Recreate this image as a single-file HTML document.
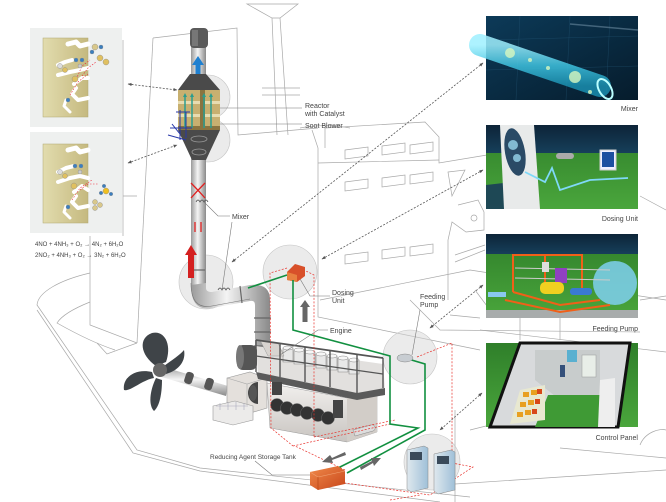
<!DOCTYPE html>
<html><head><meta charset="utf-8"><style>
html,body{margin:0;padding:0;background:#fff;}
svg{display:block;}
text{font-family:"Liberation Sans Narrow","Liberation Sans",sans-serif;fill:#444;}
</style></head><body>
<svg width="666" height="502" viewBox="0 0 666 502" xmlns="http://www.w3.org/2000/svg">
<defs>
<linearGradient id="pipe" x1="0" x2="1" y1="0" y2="0"><stop offset="0" stop-color="#9a9a9a"/><stop offset=".45" stop-color="#f4f4f4"/><stop offset="1" stop-color="#8a8a8a"/></linearGradient>
<linearGradient id="pipeh" x1="0" x2="0" y1="0" y2="1"><stop offset="0" stop-color="#9a9a9a"/><stop offset=".45" stop-color="#f4f4f4"/><stop offset="1" stop-color="#8a8a8a"/></linearGradient>
<linearGradient id="beige" x1="0" x2="1"><stop offset="0" stop-color="#e2dcae"/><stop offset="1" stop-color="#c5b97f"/></linearGradient>
<linearGradient id="mixbg" x1="0" x2="1" y1="0" y2="1"><stop offset="0" stop-color="#0c3a58"/><stop offset="1" stop-color="#061c2c"/></linearGradient>
<linearGradient id="tube" x1="0" x2="0" y1="0" y2="1"><stop offset="0" stop-color="#9ff0ff"/><stop offset=".5" stop-color="#3fc3e0"/><stop offset="1" stop-color="#1a8fb0"/></linearGradient>
<linearGradient id="green" x1="0" x2="0" y1="0" y2="1"><stop offset="0" stop-color="#2f7f2a"/><stop offset="1" stop-color="#4aa63c"/></linearGradient>
<linearGradient id="navy" x1="0" x2="0" y1="0" y2="1"><stop offset="0" stop-color="#0d2438"/><stop offset="1" stop-color="#163f5a"/></linearGradient>
<linearGradient id="eng" x1="0" x2="0" y1="0" y2="1"><stop offset="0" stop-color="#f2f0ee"/><stop offset="1" stop-color="#c8c4c0"/></linearGradient>
<linearGradient id="tank" x1="0" x2="1" y1="0" y2="1"><stop offset="0" stop-color="#f08a4a"/><stop offset="1" stop-color="#c8461a"/></linearGradient>
<linearGradient id="cab" x1="0" x2="1"><stop offset="0" stop-color="#dfe8ee"/><stop offset="1" stop-color="#9fc0d8"/></linearGradient>
<marker id="ah" viewBox="0 0 10 10" refX="9" refY="5" markerWidth="5" markerHeight="5" orient="auto-start-reverse"><path d="M0,1 L10,5 L0,9 z" fill="#555"/></marker>
</defs>

<!-- ===== ship outline lines ===== -->
<g fill="none" stroke="#a8a8a8" stroke-width="0.7">
<path d="M247,4 L298,4 L280,18 L272,18 Z"/>
<path d="M272,18 L277,135 M280,18 L288,135"/>
<path d="M153,38 L237,28 L238,135 L318,128"/>
<path d="M262,88 L300,88 M262,95 L300,95"/>
<path d="M153,38 L137,343"/>
<path d="M123,40 L123,236 M123,196 L137,196"/>
<path d="M90,236 L90,325 L137,343 M97,343 L107,354 L137,343"/>
<path d="M90,273 C60,280 38,292 37,305 L137,450 L200,468 L470,497"/>
<path d="M37,310 L133,453 L200,471 L440,502"/>
<path d="M90,302 C75,308 62,315 57,323 C80,336 100,345 115,350"/>
<path d="M312,130 L318,148 L318,317 L480,350"/>
<path d="M325,128 L425,122 L439,137 L439,163 L487,155"/>
<path d="M325,148 L325,128 M318,163 L439,160"/>
<path d="M345,150 L368,147 L368,156 L345,159 Z M382,146 L405,143 L405,152 L382,155 Z M410,145 L433,142 L433,151 L410,154 Z"/>
<path d="M345,182 L368,179 L368,188 L345,191 Z M382,178 L405,175 L405,184 L382,187 Z M410,175 L433,172 L433,181 L410,184 Z"/>
<path d="M345,255 L368,252 L368,261 L345,264 Z M382,250 L405,247 L405,256 L382,259 Z M410,247 L433,244 L433,253 L410,256 Z"/>
<path d="M448,172 L465,170 L452,196 Z"/>
<path d="M458,205 L478,200 L484,212 L484,230 L466,232 L452,222 L448,240 L448,300"/>
<circle cx="474" cy="218" r="3"/>
<path d="M455,255 L485,245 M455,262 L485,250"/>
<path d="M320,300 L470,270 L666,300 M480,330 L666,352"/>
<path d="M410,300 L440,330 L640,332 M450,315 L480,318"/>
<path d="M455,410 L455,502 M470,430 L490,425 M440,485 L666,470"/>
<path d="M560,448 L666,458 M640,445 C645,432 660,428 666,430"/>
<path d="M640,300 L666,296 M640,196 L666,210 M475,290 L490,310 M560,318 L560,340 M520,318 L520,340"/>
<path d="M300,128 C320,124 340,126 350,128"/>
</g>

<!-- ===== left chemistry panels ===== -->
<rect x="30" y="28" width="92" height="99" fill="#eef0ef"/>
<rect x="30" y="132" width="92" height="101" fill="#eef0ef"/>
<rect x="43" y="38" width="45" height="79" fill="url(#beige)" stroke="#b0a670" stroke-width=".5"/>
<rect x="43" y="144" width="45" height="79" fill="url(#beige)" stroke="#b0a670" stroke-width=".5"/>
<g fill="none" stroke="#fff" stroke-linecap="round" stroke-linejoin="round">
<path d="M68,44 L76,42 L80,46 L88,44" stroke-width="5"/>
<path d="M58,65 L65,62 L72,60" stroke-width="4"/>
<path d="M58,75 L70,72 L80,70 L88,68" stroke-width="4"/>
<path d="M74,84 L82,78 L88,78" stroke-width="4"/>
<path d="M76,88 L72,94 L78,100 L88,98" stroke-width="4"/>
<path d="M66,100 L64,106 L70,112" stroke-width="3"/>
<path d="M68,150 L76,148 L80,152 L88,150" stroke-width="5"/>
<path d="M58,172 L66,168 L74,166" stroke-width="4"/>
<path d="M58,182 L70,178 L80,176 L88,178" stroke-width="4"/>
<path d="M74,192 L82,186 L88,190" stroke-width="4"/>
<path d="M76,196 L72,202 L78,208 L88,206" stroke-width="4"/>
<path d="M66,206 L64,212 L70,218" stroke-width="3"/>
</g>
<g stroke="#e23" stroke-width=".6" fill="none" stroke-dasharray="1.5,1.5">
<path d="M75,82 L82,66 L90,60 M82,76 L88,68 L96,62 M70,95 L78,82 L88,74"/>
<path d="M72,200 L80,188 L92,180 M80,190 L88,184 L98,184"/>
</g>
<g stroke="#888" stroke-width=".4">
<circle cx="95" cy="47" r="3" fill="#d9c88a"/><circle cx="101" cy="47" r="2" fill="#3a7fc0"/><circle cx="92" cy="52" r="2" fill="#3a7fc0"/>
<circle cx="100" cy="58" r="3" fill="#e0c060"/><circle cx="106" cy="62" r="3" fill="#e0c060"/>
<circle cx="76" cy="60" r="2" fill="#3a7fc0"/><circle cx="82" cy="60" r="2" fill="#3a7fc0"/><circle cx="80" cy="66" r="2" fill="#ccc"/>
<circle cx="60" cy="66" r="2.5" fill="#ddd"/><circle cx="65" cy="70" r="2.5" fill="#e0c060"/>
<circle cx="75" cy="79" r="3" fill="#e0c060"/><circle cx="68" cy="100" r="2" fill="#3a7fc0"/>
<circle cx="75" cy="166" r="2" fill="#3a7fc0"/><circle cx="81" cy="166" r="2" fill="#3a7fc0"/><circle cx="80" cy="172" r="2" fill="#ccc"/>
<circle cx="60" cy="172" r="2.5" fill="#ddd"/><circle cx="65" cy="176" r="2.5" fill="#e0c060"/>
<circle cx="74" cy="186" r="3" fill="#e0c060"/><circle cx="68" cy="207" r="2" fill="#3a7fc0"/>
<circle cx="106" cy="191" r="3" fill="#f0c020"/><circle cx="104" cy="186" r="1.8" fill="#3a7fc0"/><circle cx="111" cy="194" r="1.8" fill="#3a7fc0"/><circle cx="101" cy="193" r="1.8" fill="#3a7fc0"/>
<circle cx="95" cy="202" r="2.5" fill="#d9c88a"/><circle cx="100" cy="205" r="2.5" fill="#d9c88a"/><circle cx="95" cy="208" r="2.5" fill="#d9c88a"/>
</g>
<text x="35" y="246" font-size="6">4NO + 4NH₃ + O₂ → 4N₂ + 6H₂O</text>
<text x="35" y="257" font-size="6">2NO₂ + 4NH₃ + O₂ → 3N₂ + 6H₂O</text>

<!-- ===== highlight circles ===== -->
<g fill="#d8d8d8" fill-opacity=".5" stroke="#c4c4c4" stroke-width=".6">
<circle cx="208" cy="97" r="22"/>
<circle cx="208" cy="140" r="22"/>
<circle cx="206" cy="282" r="27"/>
<circle cx="290" cy="272" r="27"/>
<circle cx="410" cy="357" r="27"/>
<circle cx="432" cy="462" r="28"/>
</g>

<!-- ===== chimney / pipe ===== -->
<rect x="191" y="45" width="15" height="240" fill="url(#pipe)"/>
<path d="M206,283 L206,288 Q206,292 212,292 L250,285 Q270,283 270,300 L270,350 L255,350 L255,305 Q255,300 250,301 L212,308 Q191,312 191,285 Z" fill="url(#pipe)"/>
<path d="M191,283 Q191,310 212,306 L250,299" fill="none" stroke="#777" stroke-width=".6"/>
<g fill="none" stroke="#666" stroke-width="1.2">
<path d="M254,318 L271,318 M254,332 L271,332 M254,346 L271,346"/>
<path d="M193,270 L205,270"/>
<path d="M240,286 L242,303"/>
</g>
<rect x="190" y="28" width="18" height="20" rx="4" fill="#5a5a5a"/>
<rect x="192" y="30" width="6" height="16" fill="#777"/>
<path d="M198,78 L198,64" stroke="#1f80d0" stroke-width="5"/>
<path d="M192,65 L198,56 L204,65 Z" fill="#1f80d0"/>
<!-- reactor -->
<path d="M190,74 L206,74 L220,90 L178,90 Z" fill="#4a4a4a"/>
<rect x="178" y="90" width="42" height="40" fill="#c8b070"/>
<rect x="178" y="101" width="42" height="3" fill="#e8dcb0"/>
<rect x="178" y="114" width="42" height="3" fill="#e8dcb0"/>
<rect x="200" y="90" width="5" height="40" fill="#8a7440"/>
<rect x="178" y="126" width="42" height="4" fill="#8a7440"/>
<path d="M178,130 L220,130 L206,160 L192,160 Z" fill="#4a4a4a"/>
<ellipse cx="199" cy="139" rx="8" ry="3" fill="none" stroke="#999" stroke-width=".8"/>
<ellipse cx="199" cy="152" rx="7" ry="3" fill="none" stroke="#999" stroke-width=".8"/>
<g stroke="#2a9d8f" stroke-width="1.5">
<path d="M185,128 L185,96 M192,128 L192,96 M204,128 L204,96 M211,128 L211,96"/>
</g>
<g fill="#2a9d8f"><path d="M183,97 L185,93 L187,97Z M190,97 L192,93 L194,97Z M202,97 L204,93 L206,97Z M209,97 L211,93 L213,97Z"/></g>
<g stroke="#2838a8" stroke-width="1" fill="none">
<path d="M180,110 L180,140 M186,112 L186,138 M176,112 L190,112 M170,128 L192,128 M168,135 L186,140 M172,124 L180,134"/>
</g>
<!-- red marks -->
<g stroke="#e02020" stroke-width="1.3" fill="none">
<path d="M191,183 Q198,190 205,198 M205,183 Q198,190 191,198"/>
<path d="M195,222 L195,232 M201,222 L201,232"/>
</g>
<path d="M196,202 q2,-4 4,0 q2,-4 4,0 q2,-4 4,0" fill="none" stroke="#555" stroke-width=".8"/>
<rect x="188" y="253" width="6" height="25" fill="#d42020"/>
<path d="M185,255 L191,245 L197,255 Z" fill="#d42020"/>
<path d="M218,290 q2,-4 4,0 q2,-4 4,0 q2,-4 4,0" fill="none" stroke="#555" stroke-width=".8"/>

<!-- ===== gearbox / shaft / propeller ===== -->
<path d="M160,366 L228,386 L226,396 L158,376 Z" fill="url(#pipeh)"/>
<rect x="185" y="372" width="8" height="12" rx="3" fill="#555" transform="rotate(18 189 378)"/>
<rect x="205" y="378" width="8" height="12" rx="3" fill="#555" transform="rotate(18 209 384)"/>
<path d="M227,378 L250,372 L267,378 L267,408 L247,414 L227,408 Z" fill="#e4e0dc" stroke="#999" stroke-width=".6"/>
<path d="M227,378 L247,384 L267,378 M247,384 L247,414" fill="none" stroke="#aaa" stroke-width=".6"/>
<path d="M213,406 L235,401 L253,406 L253,420 L233,425 L213,420 Z" fill="#ecebea" stroke="#999" stroke-width=".6"/>
<path d="M216,406 L248,406 M220,403 L220,410 M228,402 L228,410 M236,402 L236,410 M244,403 L244,410" stroke="#aab" stroke-width=".6" fill="none"/>
<path d="M258,382 A10,11 0 0 0 258,404 Z" fill="#444"/>
<ellipse cx="253" cy="393" rx="4" ry="8" fill="#555"/>
<g fill="#3f4448">
<path d="M156,366 C140,355 138,338 152,333 C165,330 172,345 166,362 Z"/>
<path d="M152,372 C135,368 122,378 124,390 C130,392 142,380 154,378 Z"/>
<path d="M156,378 C150,390 148,405 154,411 C160,406 162,392 162,380 Z"/>
<path d="M164,366 C172,360 180,355 184,350 C186,360 180,370 166,374 Z"/>
</g>
<circle cx="160" cy="370" r="7" fill="#666"/>

<!-- ===== engine ===== -->
<path d="M267,383 L347,398 L377,387 L377,432 L347,442 L270,428 Z" fill="url(#eng)" stroke="#999" stroke-width=".5"/>
<path d="M347,398 L377,387 L377,432 L347,442 Z" fill="#d2cdc8"/>
<path d="M256,346 L383,364 L385,390 L357,395 L258,374 Z" fill="#e2e0de"/>
<g fill="#e8e8e8" stroke="#888" stroke-width=".6">
<path d="M283,348 h10 v14 h-10 z"/><path d="M294,350 h10 v14 h-10 z"/><path d="M305,352 h10 v14 h-10 z"/><path d="M316,354 h10 v14 h-10 z"/><path d="M327,356 h10 v14 h-10 z"/><path d="M338,358 h10 v14 h-10 z"/><path d="M349,360 h10 v14 h-10 z"/>
</g>
<g fill="#f6f6f6" stroke="#888" stroke-width=".5">
<ellipse cx="288" cy="348" rx="5" ry="2"/><ellipse cx="299" cy="350" rx="5" ry="2"/><ellipse cx="310" cy="352" rx="5" ry="2"/><ellipse cx="321" cy="354" rx="5" ry="2"/><ellipse cx="332" cy="356" rx="5" ry="2"/><ellipse cx="343" cy="358" rx="5" ry="2"/><ellipse cx="354" cy="360" rx="5" ry="2"/>
</g>
<path d="M260,340 L278,343 L284,356 L268,356 Z" fill="#d8d4d0" stroke="#999" stroke-width=".5"/>
<path d="M256,372 L357,393 L385,388 L385,395 L357,400 L258,379 Z" fill="#5a5a5a"/>
<g fill="none" stroke="#555">
<path d="M256,340 L383,358" stroke-width="1.8"/>
<path d="M256,356 L383,374" stroke-width="1.2"/>
<path d="M256,340 L256,372 M280,343 L280,377 M305,347 L305,382 M330,350 L330,387 M357,354 L357,393 M383,358 L383,388" stroke-width="1.4"/>
</g>
<rect x="237" y="345" width="20" height="25" rx="6" fill="#555"/>
<ellipse cx="240" cy="357" rx="4" ry="12" fill="#777"/>
<rect x="272" y="382" width="10" height="13" fill="#444"/>
<g fill="#333" stroke="#666" stroke-width=".5">
<circle cx="277" cy="405" r="6.5"/><circle cx="287" cy="408" r="6.5"/><circle cx="297" cy="410" r="6.5"/><circle cx="307" cy="413" r="6.5"/><circle cx="318" cy="415" r="6.5"/><circle cx="328" cy="418" r="6.5"/>
</g>
<rect x="333" y="400" width="10" height="18" fill="#444"/>
<path d="M353,430 l18,-5 a3,3 0 0 1 2,6 l-18,5 z" fill="#ddd" stroke="#888" stroke-width=".5"/>

<!-- ===== red dashed zones ===== -->
<g fill="none" stroke="#e8302a" stroke-width=".7" stroke-dasharray="2,1.5">
<path d="M287,268 L270,273 L271,428 L293,446"/>
<path d="M300,268 L314,275 L314,437"/>
<path d="M293,446 L390,424"/>
<path d="M314,437 L395,420"/>
<path d="M417,357 L452,343 L452,463 L473,467 L430,495 L345,483"/>
<path d="M345,470 L295,446"/>
<path d="M390,500 L420,495"/>
</g>

<!-- labels + leaders -->
<g stroke="#777" stroke-width=".6" fill="none">
<path d="M220,108 L302,108 M220,124 L302,124"/>
<path d="M204,202 L218,216 L230,216"/>
<path d="M232,222 L222,290"/>
<path d="M296,272 L310,296 L330,296"/>
<path d="M280,355 L318,330 L328,330"/>
<path d="M420,310 L412,355"/>
<path d="M255,461 L272,475 L312,475"/>
</g>
<text x="305" y="108" font-size="7">Reactor</text>
<text x="305" y="116" font-size="7">with Catalyst</text>
<text x="305" y="128" font-size="7">Soot Blower</text>
<text x="232" y="219" font-size="7">Mixer</text>
<text x="332" y="295" font-size="7">Dosing</text>
<text x="332" y="303" font-size="7">Unit</text>
<text x="330" y="333" font-size="7">Engine</text>
<text x="420" y="299" font-size="7">Feeding</text>
<text x="420" y="307" font-size="7">Pump</text>
<text x="210" y="459" font-size="6.5">Reducing Agent Storage Tank</text>

<!-- dosing unit box -->
<path d="M287,272 L295,264 L305,267 L305,276 L297,282 L287,280 Z" fill="#d8502a"/>
<path d="M287,272 L297,275 L297,282 L287,280 Z" fill="#e88040"/>
<path d="M305,305 L305,322" stroke="#666" stroke-width="5"/>
<path d="M300,307 L305,300 L310,307 Z" fill="#666"/>

<!-- green lines -->
<g fill="none" stroke="#129040" stroke-width="1.6">
<path d="M248,288 L287,275"/>
<path d="M293,280 L293,330 L390,356 L390,424 L418,428 L338,468"/>
<path d="M398,356 L425,364 L425,430 L347,473"/>
</g>

<!-- feeding pump -->
<ellipse cx="405" cy="358" rx="8" ry="4" fill="#c8cdd2" stroke="#888" stroke-width=".5"/>

<!-- storage tank -->
<path d="M310,472 L338,466 L345,471 L345,484 L318,490 L310,485 Z" fill="url(#tank)"/>
<path d="M310,472 L318,477 L345,471" fill="none" stroke="#f0a070" stroke-width=".6"/>
<path d="M318,477 L318,490" stroke="#b04010" stroke-width=".6"/>
<path d="M345,452 L332,458 L330,455 L322,462 L333,463 L332,460 L346,455 Z" fill="#666"/>
<path d="M360,467 L372,461 L371,458 L381,458 L374,466 L373,463 L361,470 Z" fill="#666"/>

<!-- control panel cabinets -->
<path d="M407,450 L424,446 L428,448 L428,488 L411,492 L407,489 Z" fill="url(#cab)" stroke="#888" stroke-width=".5"/>
<path d="M434,454 L451,450 L455,452 L455,490 L438,494 L434,491 Z" fill="url(#cab)" stroke="#888" stroke-width=".5"/>
<rect x="410" y="452" width="12" height="8" fill="#3a4a5a"/>
<rect x="437" y="456" width="12" height="8" fill="#3a4a5a"/>

<!-- ===== right images ===== -->
<rect x="486" y="16" width="152" height="84" fill="url(#mixbg)"/>
<g stroke="#2a5f80" stroke-width=".4" opacity=".6"><path d="M486,40 L638,36 M486,70 L638,66 M520,16 L516,100 M570,16 L566,100 M610,16 L606,100"/></g>
<path d="M570,24 L638,30" stroke="#6a8aa0" stroke-width="1.5" opacity=".6"/>
<path d="M480,45 L600,86" stroke="url(#tube)" stroke-width="22" stroke-linecap="round" opacity=".85"/>
<ellipse cx="605" cy="89" rx="6" ry="11" fill="none" stroke="#bff" stroke-width="2" transform="rotate(-30 605 89)"/>
<g fill="#d8f8c0" opacity=".8"><circle cx="510" cy="53" r="5"/><circle cx="575" cy="77" r="6"/><circle cx="548" cy="68" r="2"/><circle cx="530" cy="60" r="2"/><circle cx="590" cy="92" r="2"/></g>

<rect x="486" y="125" width="152" height="84" fill="url(#green)"/>
<rect x="486" y="125" width="152" height="28" fill="url(#navy)"/>
<path d="M486,185 L530,180 L540,209 L486,209 Z" fill="#17385a" opacity=".85"/>
<path d="M500,125 L534,125 L540,209 L504,209 Z" fill="#e8eaea"/>
<ellipse cx="515" cy="152" rx="10" ry="24" fill="#2a4a66" transform="rotate(-10 515 152)"/>
<g fill="#a8e8ff" opacity=".7"><circle cx="513" cy="145" r="5"/><circle cx="517" cy="158" r="4"/></g>
<path d="M525,172 L545,182 L552,168 L560,190 L590,180 L628,178" fill="none" stroke="#7fd8f8" stroke-width="1.8"/>
<rect x="556" y="153" width="18" height="6" rx="3" fill="#aaa"/>
<rect x="600" y="150" width="16" height="20" fill="#eef" stroke="#ccc"/>
<rect x="602" y="152" width="12" height="15" fill="#1c4fa0"/>

<rect x="486" y="234" width="152" height="84" fill="url(#green)"/>
<rect x="486" y="234" width="152" height="20" fill="url(#navy)"/>
<rect x="486" y="310" width="152" height="8" fill="#a8acac"/>
<circle cx="615" cy="283" r="22" fill="#7fd0f0" opacity=".85"/>
<g fill="none" stroke="#f06018" stroke-width="2">
<path d="M513,292 L513,255 L582,255 L582,290 M545,255 L545,292 M513,292 L560,305 L600,300 M505,300 L560,312 L610,305"/>
</g>
<g stroke="#ccc" stroke-width="1"><path d="M515,268 L610,270 M515,278 L610,280"/></g>
<rect x="555" y="268" width="12" height="15" fill="#9040c0"/>
<rect x="540" y="282" width="24" height="12" rx="5" fill="#f0d020"/>
<rect x="570" y="288" width="22" height="7" rx="3" fill="#3a7ad0"/>
<rect x="488" y="292" width="18" height="5" fill="#8ac8f0"/>
<rect x="542" y="262" width="7" height="10" fill="#ddd"/>

<rect x="486" y="343" width="152" height="84" fill="url(#green)"/>
<path d="M520,343 L630,343 L618,427 L490,427 Z" fill="#d8dadc"/>
<path d="M520,343 L630,343 L618,427 L490,427 Z" fill="none" stroke="#111" stroke-width="3"/>
<path d="M535,350 L600,350 L600,395 L560,400 L535,380 Z" fill="#c8cccc"/>
<path d="M548,395 L600,395 L612,427 L535,427 Z" fill="#3f9a35"/>
<path d="M520,390 L545,385 L545,420 L510,424 Z" fill="#e8e8d0"/>
<g fill="#e8a020"><rect x="523" y="392" width="6" height="5"/><rect x="531" y="390" width="6" height="5"/><rect x="520" y="402" width="6" height="5"/><rect x="528" y="400" width="6" height="5"/><rect x="517" y="412" width="6" height="5"/><rect x="525" y="410" width="6" height="5"/></g>
<g fill="#d84818"><rect x="537" y="389" width="5" height="5"/><rect x="535" y="399" width="5" height="5"/><rect x="532" y="409" width="5" height="5"/></g>
<rect x="567" y="350" width="10" height="12" fill="#5ab0d0"/>
<rect x="582" y="355" width="14" height="22" fill="#e8eee8" stroke="#999" stroke-width=".5"/>
<rect x="560" y="365" width="5" height="12" fill="#35507a"/>
<path d="M600,380 L615,378 L615,427 L598,427 Z" fill="#eee"/>
<text x="638" y="111" font-size="7" text-anchor="end">Mixer</text>
<text x="638" y="221" font-size="7" text-anchor="end">Dosing Unit</text>
<text x="638" y="331" font-size="7" text-anchor="end">Feeding Pump</text>
<text x="638" y="440" font-size="7" text-anchor="end">Control Panel</text>

<!-- ===== dashed double arrows ===== -->
<g fill="none" stroke="#555" stroke-width=".8" stroke-dasharray="2,1.5" marker-start="url(#ah)" marker-end="url(#ah)">
<path d="M128,84 L177,90"/>
<path d="M128,163 L177,145"/>
<path d="M483,63 L232,262"/>
<path d="M483,170 L322,259"/>
<path d="M483,285 L430,328"/>
<path d="M482,393 L440,430"/>
</g>
</svg>
</body></html>
